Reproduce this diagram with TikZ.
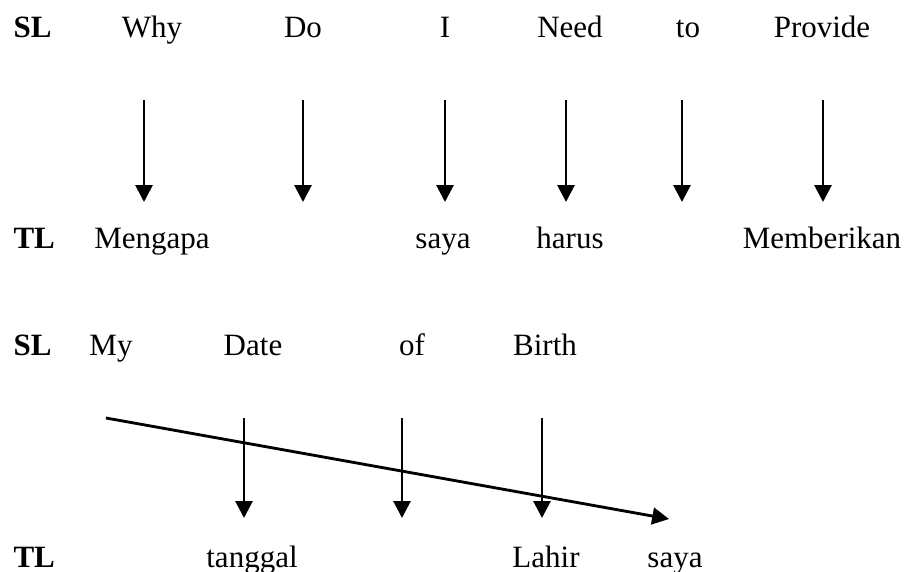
\documentclass[tikz,border=0pt]{standalone}
\usepackage{fontspec}
\setmainfont{Liberation Serif}
\usetikzlibrary{arrows.meta}
\begin{document}
\begin{tikzpicture}[x=0.387pt,y=-0.387pt,
  word/.style={anchor=base,inner sep=0pt,font=\fontsize{12}{14}\selectfont},
  lab/.style={anchor=base west,inner sep=0pt,font=\fontsize{12}{14}\selectfont\bfseries},
  arr/.style={line width=1.1pt,-{Triangle[length=6.5pt,width=6.5pt]}}]
\useasboundingbox (0,0) rectangle (908,571);
% row 1
\node[lab] (sl1) at (13,37) {SL};
\node[word] (why) at (152,37) {Why};
\node[word] (do) at (303,37) {Do};
\node[word] (i) at (445,37) {I};
\node[word] (need) at (570,37) {Need};
\node[word] (to) at (688,37) {to};
\node[word] (provide) at (822,37) {Provide};
% row 2
\node[lab] (tl1) at (13,248) {TL};
\node[word] (mengapa) at (152,248) {Mengapa};
\node[word] (saya1) at (443,248) {saya};
\node[word] (harus) at (570,248) {harus};
\node[word] (memberikan) at (822,248) {Memberikan};
% arrows row 1
\foreach \n/\x in {a/144,b/303,c/445,d/566,e/682,f/823}{
  \coordinate (\n s) at (\x,100);
  \coordinate (\n e) at (\x,202);
  \draw[arr] (\n s) -- (\n e);
}
% row 3
\node[lab] (sl2) at (13,355) {SL};
\node[word] (my) at (111,355) {My};
\node[word] (date) at (253,355) {Date};
\node[word] (of) at (412,355) {of};
\node[word] (birth) at (545,355) {Birth};
% row 4
\node[lab] (tl2) at (13,567) {TL};
\node[word] (tanggal) at (252,567) {tanggal};
\node[word] (lahir) at (546,567) {Lahir};
\node[word] (saya2) at (675,567) {saya};
% arrows row 2
\foreach \n/\x in {g/244,h/402,k/542}{
  \coordinate (\n s) at (\x,418);
  \coordinate (\n e) at (\x,518);
  \draw[arr] (\n s) -- (\n e);
}
\coordinate (ds) at (106,418);
\coordinate (de) at (669,519);
\draw[arr] (ds) -- (de);
\end{tikzpicture}
\end{document}
